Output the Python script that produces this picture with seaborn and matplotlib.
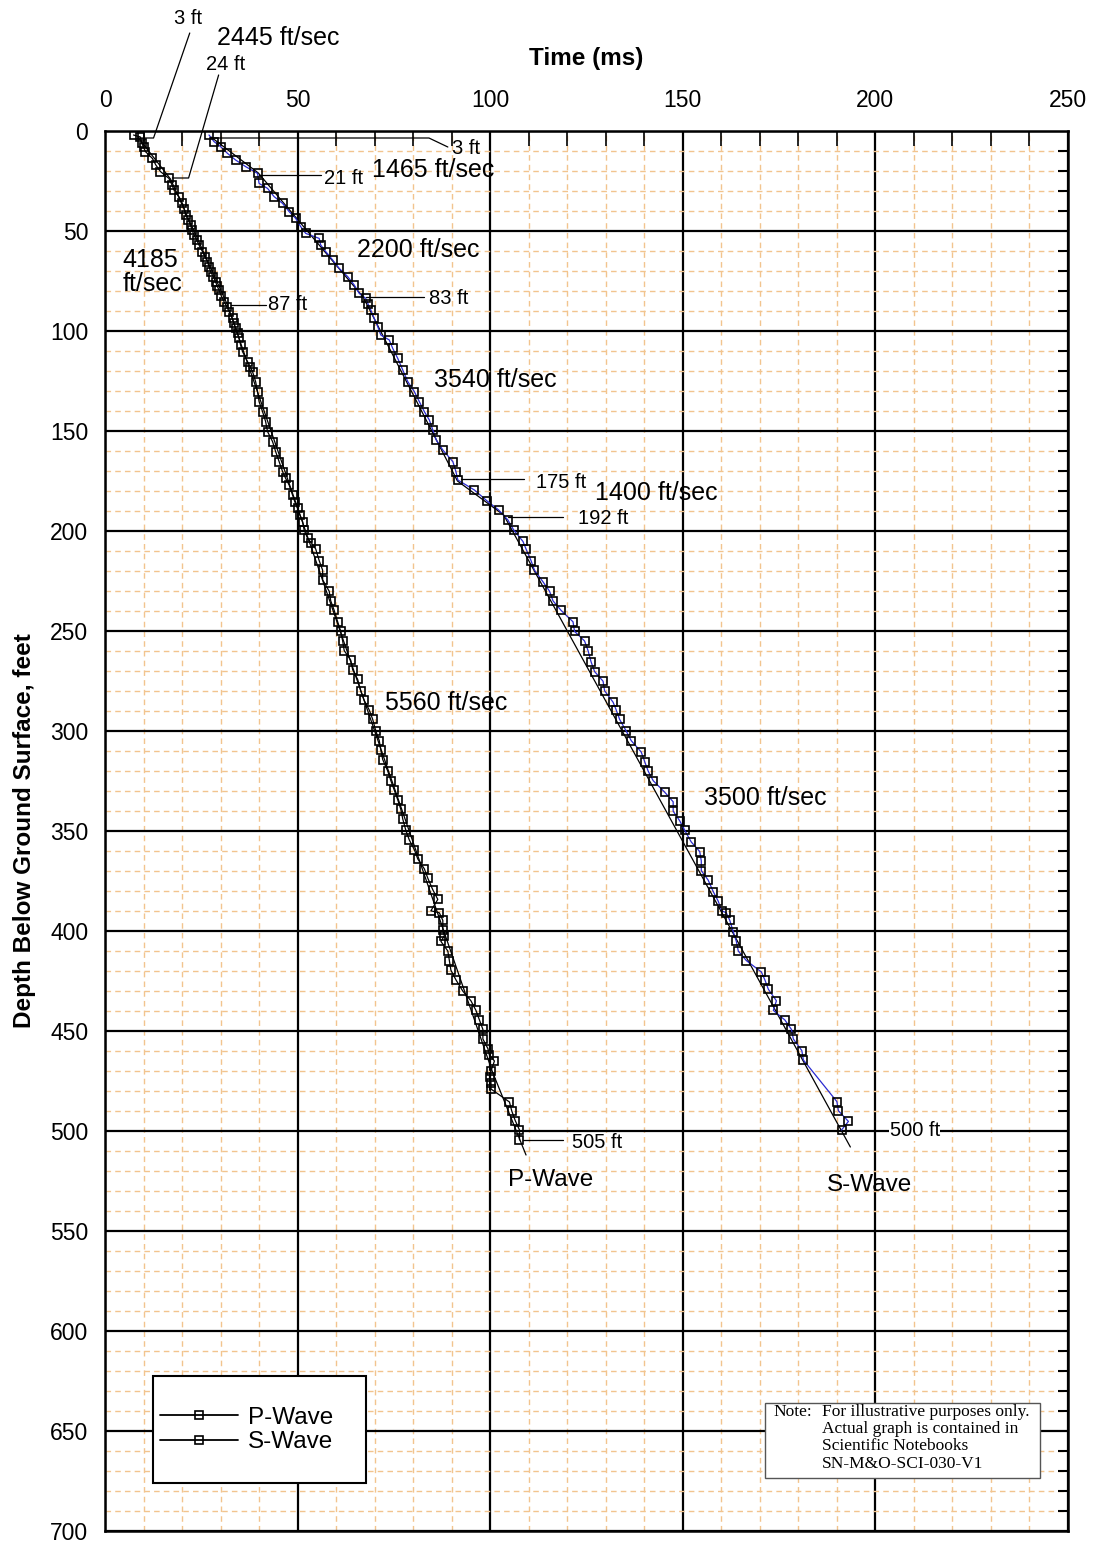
import matplotlib
matplotlib.use("Agg")
import matplotlib.pyplot as plt
from matplotlib.lines import Line2D
from matplotlib.patches import Rectangle
from matplotlib.ticker import MultipleLocator
import seaborn as sns
import pandas as pd

# ---------------- data ----------------
p_depth = [2, 3, 6, 8, 10.3, 13.7, 17, 20.3, 23.7, 27, 29.5, 32.8, 36.2, 39, 42, 44.5, 47,
           49.5, 52, 54.5, 57, 60.3, 62.8, 65.3, 67.8, 70.3, 72.8, 75.3, 77.5, 79.5, 82.5,
           85.3, 87.8, 90.3, 93.7, 96.2, 98.7, 101.2, 103.7, 107, 110.3, 115.3, 117.8, 120.3,
           125.3, 130.3, 135.3, 140.3, 145.3, 150.3, 155.3, 160.3, 165.3, 170.3, 173.7, 177,
           182, 185.5, 188.7, 192, 195.3, 199.5, 203.7, 206, 209, 214.8, 219.6, 224.4, 230.1,
           234.9, 239.7, 245.4, 250.2, 255, 259.8, 264.6, 269.4, 274.2, 279.9, 284.7, 289.5,
           294.2, 300, 304.8, 309.5, 314.3, 320, 324.8, 329.6, 334.4, 339.2, 344, 349.7,
           354.5, 359.3, 364, 368.9, 373.6, 379.4, 384.2, 389.9, 390.9, 394.7, 399.5, 402.4,
           405.2, 410, 414.8, 419.6, 424.4, 430.1, 434.9, 439.7, 444.5, 449.2, 454, 458.8,
           462, 465, 470, 473, 476, 479, 485.5, 490, 494.8, 499.5, 504.5]
p_time = [7.4, 9.2, 9.5, 10.0, 10.5, 12.3, 13.2, 14.4, 16.6, 17.4, 17.9, 19.2, 20.1, 20.6,
          20.9, 21.6, 22.2, 22.6, 23.1, 23.8, 24.4, 25.3, 25.9, 26.6, 27.0, 27.4, 28.1, 28.7,
          29.1, 29.6, 30.2, 30.9, 31.6, 32.2, 33.1, 33.5, 33.9, 34.4, 34.8, 35.2, 35.7, 37.0,
          37.7, 38.3, 39.1, 39.6, 40.0, 40.9, 41.7, 42.2, 43.5, 44.3, 45.2, 46.1, 46.9, 47.8,
          48.7, 49.3, 50.0, 50.6, 51.3, 51.7, 52.6, 53.6, 54.7, 55.6, 56.5, 56.5, 58.2, 58.6,
          59.5, 60.4, 61.2, 61.7, 62.1, 63.8, 64.3, 65.6, 66.4, 67.3, 68.6, 69.5, 70.3, 71.2,
          71.6, 72.1, 73.4, 74.2, 75.1, 76.0, 76.8, 77.3, 78.1, 79.0, 80.3, 81.2, 82.9, 83.8,
          85.1, 86.4, 84.6, 86.8, 87.7, 87.7, 88.1, 87.2, 89.0, 89.4, 89.8, 91.1, 92.9, 95.0,
          96.3, 97.2, 98.1, 98.1, 99.4, 99.8, 101.1, 100.2, 100.0, 100.2, 100.2, 105.0, 105.6,
          106.5, 107.6, 107.6]

s_depth = [2, 5.3, 7.8, 11.2, 14.5, 17.8, 21.2, 26.2, 28.7, 32.8, 36.2, 40.3, 43.7, 47.8,
           51.2, 53.7, 57, 60.3, 64.5, 68.7, 72.8, 77, 81.2, 83.7, 86.5, 89.5, 93.7, 97.8, 102,
           104.5, 108.7, 113.7, 119.5, 125.3, 130.3, 135.3, 140.3, 144.5, 149.5, 154.5, 159.5,
           165.3, 170.3, 174.5, 179.5, 185, 189.5, 194.5, 199.5, 205.2, 209, 214.8, 219.6,
           225.4, 230.1, 234.9, 239.7, 245.4, 250.2, 255, 259.8, 265.5, 270.3, 275.1, 279.9,
           285.6, 289.4, 294.2, 300, 304.8, 310.5, 315.3, 320, 324.8, 330.6, 335.4, 340.1,
           344.9, 349.7, 355.5, 360.3, 365, 369.8, 374.6, 380.3, 385.1, 389.9, 390.9, 394.7,
           400.4, 405.2, 410, 414.8, 420.5, 424.4, 429.1, 434.9, 439.7, 444.5, 449.2, 454,
           459.8, 464.5, 485.3, 489.9, 495.2, 499.5]
s_time = [27.0, 28.3, 30.0, 31.8, 33.9, 36.5, 39.6, 40.0, 42.2, 43.9, 46.1, 47.8, 49.5, 50.8,
          52.1, 55.6, 56.0, 57.3, 59.1, 60.8, 63.0, 64.7, 66.0, 67.7, 68.3, 69.0, 69.9, 70.8,
          71.6, 73.8, 74.7, 76.0, 77.3, 78.6, 80.3, 81.6, 82.9, 84.2, 85.1, 86.0, 87.7, 90.3,
          91.1, 91.6, 95.9, 99.2, 102.2, 104.6, 106.1, 108.5, 109.3, 110.6, 111.5, 113.7,
          115.4, 116.3, 118.4, 121.5, 121.9, 124.5, 125.4, 126.2, 127.1, 129.3, 129.7, 131.9,
          132.7, 133.6, 135.3, 136.6, 139.2, 140.1, 141.0, 142.3, 145.3, 147.5, 147.5, 149.2,
          150.5, 152.2, 154.4, 154.8, 154.8, 156.6, 157.9, 159.2, 160.1, 161.3, 162.2, 163.1,
          163.9, 164.4, 166.5, 170.4, 171.3, 172.2, 174.3, 173.5, 176.5, 178.2, 178.7, 180.9,
          181.3, 190.0, 190.4, 193.0, 191.2]

# velocity fit segments (break depths, ft / times, ms)
p_fit_depth = [3, 24, 87, 470, 512]
p_fit_time = [8.5, 17.0, 31.8, 100.5, 109.3]
s_fit_depth = [3, 21, 83, 175, 192, 508]
s_fit_time = [27.5, 39.8, 67.0, 91.5, 103.5, 193.5]

x_ticks = [0, 50, 100, 150, 200, 250]
y_ticks = [0, 50, 100, 150, 200, 250, 300, 350, 400, 450, 500, 550, 600, 650, 700]
series_labels = ["P-Wave", "S-Wave"]

# ---------------- figure ----------------
sns.set_theme(style="white")
plt.rcParams["font.family"] = ["Liberation Sans", "DejaVu Sans"]
plt.rcParams["text.color"] = "black"
plt.rcParams["axes.labelcolor"] = "black"
plt.rcParams["xtick.color"] = "black"
plt.rcParams["ytick.color"] = "black"

fig = plt.figure(figsize=(10.93, 15.42), dpi=100)
ax = fig.add_axes([105 / 1093, 1 - 1531 / 1542, 963 / 1093, 1400 / 1542])
ax.set_facecolor("white")

# fit lines
ax.plot(p_fit_time, p_fit_depth, color="black", lw=0.9, zorder=2)
ax.plot(s_fit_time, s_fit_depth, color="black", lw=0.9, zorder=2)

# data
p_df = pd.DataFrame({"time": p_time, "depth": p_depth})
s_df = pd.DataFrame({"time": s_time, "depth": s_depth})
sns.lineplot(data=p_df, x="time", y="depth", sort=False, estimator=None, ax=ax,
             color="black", lw=0.9, marker="s", markersize=6.3, markerfacecolor="none",
             markeredgecolor="black", markeredgewidth=1.2, zorder=3)
sns.lineplot(data=s_df, x="time", y="depth", sort=False, estimator=None, ax=ax,
             color="#2a2ad0", lw=0.9, marker="s", markersize=6.3, markerfacecolor="none",
             markeredgecolor="black", markeredgewidth=1.2, zorder=3)

# axes, grid
ax.set_xlim(0, 250)
ax.set_ylim(700, 0)
ax.set_xticks(x_ticks)
ax.set_yticks(y_ticks)
ax.xaxis.set_minor_locator(MultipleLocator(10))
ax.yaxis.set_minor_locator(MultipleLocator(10))
ax.grid(which="minor", color="#f2c48e", linestyle=(0, (4, 3)), linewidth=1.0, zorder=0)
ax.grid(which="major", color="black", linestyle="-", linewidth=1.6, zorder=0.5)
ax.set_axisbelow(True)

ax.xaxis.tick_top()
ax.xaxis.set_label_position("top")
ax.tick_params(axis="x", which="major", labelsize=16.5, length=0, pad=14)
ax.tick_params(axis="x", which="minor", direction="in", length=11, width=1.2,
               top=True, bottom=False, color="black")
ax.tick_params(axis="y", which="major", labelsize=16.5, length=0, pad=12)
ax.tick_params(axis="y", which="minor", direction="in", length=7, width=1.5,
               left=False, right=True, color="black")
ax.set_xlabel("Time (ms)", fontsize=17.5, fontweight="bold", labelpad=17)
ax.set_ylabel("Depth Below Ground Surface, feet", fontsize=17.5, fontweight="bold",
              labelpad=10)
for sp in ax.spines.values():
    sp.set_visible(True)
    sp.set_color("black")
    sp.set_linewidth(1.8)

# leader lines
lk = dict(color="black", lw=0.9, clip_on=False, zorder=4)
ax.plot([22.0, 12.6, 8.7], [-49, 3.5, 3.5], **lk)
ax.plot([29.5, 21.7, 17.5], [-28, 23.5, 23.5], **lk)
ax.plot([27.4, 84.1, 89.0], [3.5, 3.5, 8.0], **lk)
ax.plot([39.9, 56.0], [22, 22], **lk)
ax.plot([32.6, 41.7], [87, 87], **lk)
ax.plot([67.7, 82.8], [83, 83], **lk)
ax.plot([92.4, 108.8], [174, 174], **lk)
ax.plot([104.6, 119.0], [193, 193], **lk)
ax.plot([108.5, 118.9], [504.5, 504.5], **lk)

small = 14.5
big = 18
tk = dict(ha="center", va="center", clip_on=False, zorder=6)
ax.text(21.5, -56.5, "3 ft", fontsize=small, **tk)
ax.text(45.1, -46.5, "2445 ft/sec", fontsize=big, **tk)
ax.text(31.3, -33.5, "24 ft", fontsize=small, **tk)
ax.text(90.0, 8.5, "3 ft", fontsize=small, ha="left", va="center", zorder=6)
ax.text(85.2, 19.5, "1465 ft/sec", fontsize=big, **tk)
ax.text(62.0, 24.0, "21 ft", fontsize=small, **tk)
ax.text(81.2, 59.5, "2200 ft/sec", fontsize=big, **tk)
ax.text(4.6, 70.5, "4185\nft/sec", fontsize=big, ha="left", va="center",
        linespacing=1.0, zorder=6)
ax.text(47.5, 86.5, "87 ft", fontsize=small, **tk)
ax.text(89.3, 84.0, "83 ft", fontsize=small, **tk)
ax.text(101.3, 124.5, "3540 ft/sec", fontsize=big, **tk)
ax.text(118.4, 175.5, "175 ft", fontsize=small, **tk)
ax.text(143.1, 181.0, "1400 ft/sec", fontsize=big, **tk)
ax.text(129.4, 193.5, "192 ft", fontsize=small, **tk)
ax.text(88.5, 286.0, "5560 ft/sec", fontsize=big, **tk)
ax.text(171.5, 333.5, "3500 ft/sec", fontsize=big, **tk)
ax.text(127.8, 506.0, "505 ft", fontsize=small, **tk)
ax.text(115.6, 524.5, "P-Wave", fontsize=17.5, **tk)
ax.text(210.2, 500.0, "500 ft", fontsize=small,
        bbox=dict(facecolor="white", edgecolor="none", pad=0.5), **tk)
ax.text(198.5, 527.0, "S-Wave", fontsize=17.5, **tk)

# legend box
ax.add_patch(Rectangle((48 / 963, 1 - (1483 - 131) / 1400), 213 / 963, 107 / 1400,
                       transform=ax.transAxes, facecolor="white", edgecolor="black",
                       lw=1.5, zorder=5, clip_on=False))
handles = [Line2D([], [], color="black", lw=1.3, marker="s", markersize=6,
                  markerfacecolor="none", markeredgecolor="black", markeredgewidth=1.2)
           for _ in series_labels]
leg = ax.legend(handles, series_labels, loc="center left",
                bbox_to_anchor=(55 / 963, 1 - (1430 - 131) / 1400), frameon=False,
                fontsize=17.5, handlelength=3.2, handletextpad=0.4, labelspacing=0.12,
                borderpad=0, borderaxespad=0)
leg.set_zorder(7)

# note box
ax.add_patch(Rectangle(((765 - 105) / 963, 1 - (1478 - 131) / 1400), 275 / 963, 75 / 1400,
                       transform=ax.transAxes, facecolor="white", edgecolor="#555555",
                       lw=1.0, zorder=5))
nk = dict(transform=ax.transAxes, fontsize=12.5, family=["Liberation Serif", "DejaVu Serif"],
          va="top", ha="left", linespacing=1.1, zorder=7)
ax.text((773 - 105) / 963, 1 - (1404 - 131) / 1400, "Note:", **nk)
ax.text((822 - 105) / 963, 1 - (1404 - 131) / 1400,
        "For illustrative purposes only.\nActual graph is contained in\n"
        "Scientific Notebooks\nSN-M&O-SCI-030-V1", **nk)

fig.savefig("out.png", dpi=100)
